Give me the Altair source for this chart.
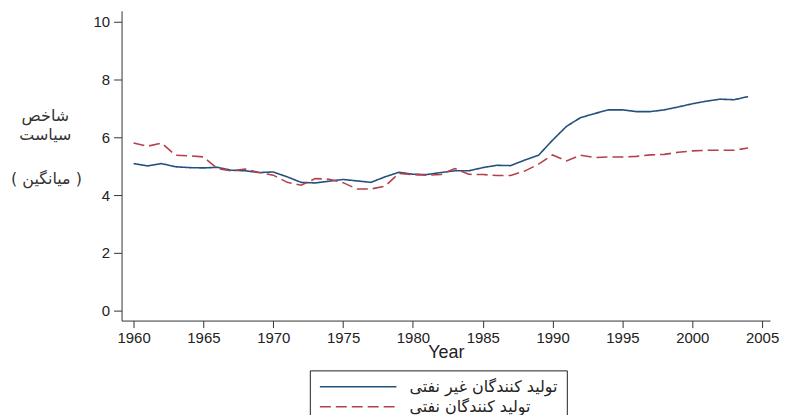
import altair as alt
import pandas as pd

years = list(range(1960, 2005))
non_oil = [5.09, 5.01, 5.09, 4.98, 4.95, 4.94, 4.96, 4.86, 4.84, 4.78,
           4.80, 4.63, 4.44, 4.42, 4.48, 4.54, 4.49, 4.44, 4.63, 4.79,
           4.72, 4.71, 4.78, 4.84, 4.84, 4.95, 5.03, 5.02, 5.21, 5.38,
           5.90, 6.38, 6.68, 6.82, 6.95, 6.95, 6.89, 6.89, 6.95, 7.05,
           7.16, 7.25, 7.32, 7.30, 7.41]
oil = [5.80, 5.69, 5.80, 5.38, 5.36, 5.32, 4.92, 4.84, 4.90, 4.78,
       4.69, 4.44, 4.34, 4.57, 4.55, 4.43, 4.21, 4.21, 4.31, 4.75,
       4.71, 4.69, 4.71, 4.92, 4.72, 4.71, 4.68, 4.68, 4.83, 5.07,
       5.39, 5.18, 5.38, 5.30, 5.32, 5.32, 5.34, 5.39, 5.41, 5.48,
       5.53, 5.55, 5.55, 5.55, 5.63]

series_names = ["تولید کنندگان غیر نفتی", "تولید کنندگان نفتی"]
series_colors = ["#24507e", "#b5404c"]
x_ticks = list(range(1960, 2010, 5))
y_ticks = [0, 2, 4, 6, 8, 10]
y_title = ["شاخص", "سیاست"]
y_title_note = "( میانگین )"

df = pd.concat([
    pd.DataFrame({"Year": years, "value": non_oil, "group": series_names[0]}),
    pd.DataFrame({"Year": years, "value": oil, "group": series_names[1]}),
])

chart = alt.Chart(df, title=alt.TitleParams(
    text=y_title_note, orient="top", anchor="start", frame="group",
    offset=0, baseline="middle", dx=-111, dy=185,
    font="DejaVu Sans", fontSize=16, fontWeight="normal", color="#333",
)).mark_line(strokeWidth=1.6).encode(
    x=alt.X("Year:Q",
            scale=alt.Scale(domain=[1959.14, 2005.57], nice=False, zero=False),
            axis=alt.Axis(values=x_ticks, format="d", title="Year", grid=False,
                          tickSize=7, labelPadding=3, titlePadding=-2,
                          labelFontSize=15, titleFontSize=18,
                          labelFlush=False)),
    y=alt.Y("value:Q",
            scale=alt.Scale(domain=[-0.345, 10.38], nice=False, zero=False),
            axis=alt.Axis(values=y_ticks, grid=False, tickSize=8, labelPadding=4,
                          labelFontSize=15,
                          title=y_title,
                          titleAngle=0, titleAlign="center", titleBaseline="top",
                          titleX=-77, titleY=97, titleFont="DejaVu Sans",
                          titleFontSize=16, titleFontWeight="normal",
                          titleLineHeight=19, titleColor="#333")),
    color=alt.Color("group:N",
                    scale=alt.Scale(domain=series_names, range=series_colors),
                    legend=alt.Legend(title=None, orient="none", legendX=189, legendY=361,
                                      direction="vertical", symbolType="stroke",
                                      symbolSize=5900, symbolStrokeWidth=1.6,
                                      clipHeight=15,
                                      strokeColor="#222", fillColor="white",
                                      padding=9, labelFont="DejaVu Sans",
                                      labelFontSize=16, labelColor="#222",
                                      labelOffset=12, rowPadding=3, labelLimit=300)),
    strokeDash=alt.StrokeDash("group:N",
                              scale=alt.Scale(domain=series_names, range=[[1, 0], [11, 5]]),
                              legend=None),
).properties(
    width=651, height=311,
    autosize=alt.AutoSizeParams(type="none"),
    padding={"left": 114, "top": 2, "right": 10, "bottom": 94},
).configure_view(stroke=None).configure_axis(
    labelFont="Liberation Sans", titleFont="Liberation Sans",
    labelColor="#222", titleColor="#222", domainColor="#333", tickColor="#333",
    titleFontWeight="normal",
)

chart.save("out.html", embed_options={"renderer": "svg", "actions": False})
